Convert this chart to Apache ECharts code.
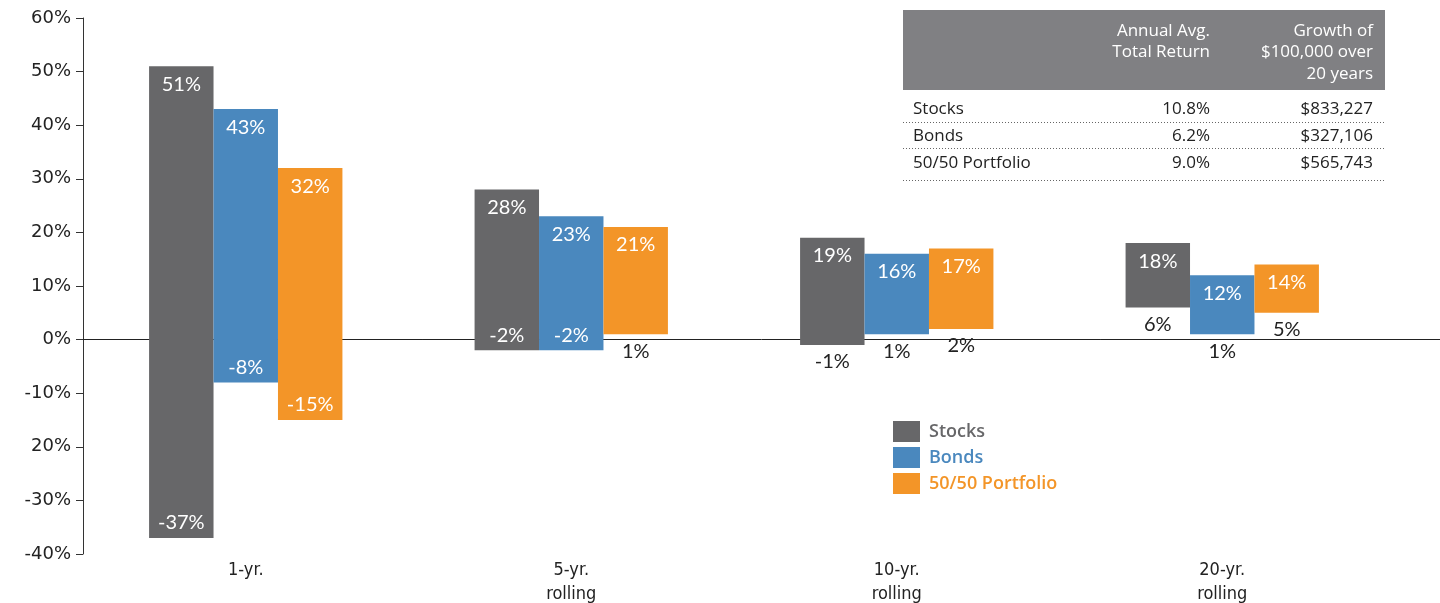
<!DOCTYPE html>
<html>
<head>
<meta charset="utf-8">
<script src="https://cdn.jsdelivr.net/npm/echarts@6/dist/echarts.min.js"></script>
<style>
html,body{margin:0;padding:0;background:#fff;}
#chart{width:1440px;height:603px;}
</style>
</head>
<body>
<div id="chart"></div>
<script>
// ---- data ----
const categories = ['1-yr.', '5-yr.\nrolling', '10-yr.\nrolling', '20-yr.\nrolling'];
const seriesNames = ['Stocks', 'Bonds', '50/50 Portfolio'];
const stocksMin = [-37, -2, -1, 6];
const stocksMax = [51, 28, 19, 18];
const bondsMin = [-8, -2, 1, 1];
const bondsMax = [43, 23, 16, 12];
const portfolioMin = [-15, 1, 2, 5];
const portfolioMax = [32, 21, 17, 14];
const yTickLabels = ['-40%', '-30%', '20%', '-10%', '0%', '10%', '20%', '30%', '40%', '50%', '60%'];
const tableHeader = ['Annual Avg.\nTotal Return', 'Growth of\n$100,000 over\n20 years'];
const tableRowNames = ['Stocks', 'Bonds', '50/50 Portfolio'];
const tableReturns = ['10.8%', '6.2%', '9.0%'];
const tableGrowth = ['$833,227', '$327,106', '$565,743'];

const colors = ['#676769', '#4a88be', '#f39528'];
const BAR_FRAC = 0.198;
const labelFont = 'Lato, "Open Sans", sans-serif';

function makeData(mins, maxs) {
  return mins.map((m, i) => [i, m, maxs[i]]);
}
const seriesData = [
  makeData(stocksMin, stocksMax),
  makeData(bondsMin, bondsMax),
  makeData(portfolioMin, portfolioMax)
];

function renderItem(params, api) {
  const s = params.seriesIndex;
  const ci = api.value(0);
  const lo = api.value(1), hi = api.value(2);
  const center = api.coord([ci, 0])[0];
  const band = api.size([1, 0])[0];
  const w = band * BAR_FRAC;
  const x0 = center + (s - 1) * w - w / 2;
  const yTop = api.coord([ci, hi])[1];
  const yBot = api.coord([ci, lo])[1];
  const cx = x0 + w / 2;
  const children = [
    { type: 'rect', shape: { x: x0, y: yTop, width: w, height: yBot - yTop },
      style: { fill: api.visual('color') } },
    { type: 'text', x: cx, y: yTop + 18,
      style: { text: hi + '%', fill: '#fff', font: '20px ' + labelFont, align: 'center', verticalAlign: 'middle' } }
  ];
  if (lo <= -2) {
    children.push({ type: 'text', x: cx, y: yBot - 15,
      style: { text: lo + '%', fill: '#fff', font: '20px ' + labelFont, align: 'center', verticalAlign: 'middle' } });
  } else {
    children.push({ type: 'text', x: cx, y: yBot + 17,
      style: { text: lo + '%', fill: '#222', font: '20px ' + labelFont, align: 'center', verticalAlign: 'middle' } });
  }
  return { type: 'group', children };
}

// table graphics
const tX0 = 903, tX1 = 1385, col1R = 1210, col2R = 1373, txtL = 913;
const tFont = '17px "Open Sans", sans-serif';
const graphics = [
  { type: 'rect', shape: { x: tX0, y: 10, width: tX1 - tX0, height: 80 }, style: { fill: '#808083' } },
  { type: 'text', x: col1R, y: 20, style: { text: tableHeader[0], fill: '#fff', font: tFont, align: 'right', verticalAlign: 'top', lineHeight: 21.5 } },
  { type: 'text', x: col2R, y: 20, style: { text: tableHeader[1], fill: '#fff', font: tFont, align: 'right', verticalAlign: 'top', lineHeight: 21.5 } }
];
const rowY = [109, 136, 163];
const lineY = [122.5, 148.5, 180.5];
tableRowNames.forEach((n, i) => {
  graphics.push({ type: 'text', x: txtL, y: rowY[i], style: { text: n, fill: '#222', font: tFont, align: 'left', verticalAlign: 'middle' } });
  graphics.push({ type: 'text', x: col1R, y: rowY[i], style: { text: tableReturns[i], fill: '#222', font: tFont, align: 'right', verticalAlign: 'middle' } });
  graphics.push({ type: 'text', x: col2R, y: rowY[i], style: { text: tableGrowth[i], fill: '#222', font: tFont, align: 'right', verticalAlign: 'middle' } });
  graphics.push({ type: 'line', shape: { x1: tX0, y1: lineY[i], x2: tX1, y2: lineY[i] }, style: { stroke: '#666', lineWidth: 1, lineDash: [1, 2] } });
});

const chart = echarts.init(document.getElementById('chart'));
chart.setOption({
  animation: false,
  backgroundColor: '#fff',
  color: colors,
  grid: [
    { left: 83, right: 55, top: 18, bottom: 49, outerBoundsMode: 'none', containLabel: false },
    { left: 83, right: 0, top: 18, bottom: 49, outerBoundsMode: 'none', containLabel: false }
  ],
  legend: {
    orient: 'vertical', left: 888, top: 416, icon: 'rect',
    itemWidth: 27, itemHeight: 21, itemGap: 5,
    textStyle: { fontSize: 18, fontWeight: 600, fontFamily: '"Open Sans", sans-serif', padding: [0, 0, 0, 4] },
    data: seriesNames.map((n, i) => ({ name: n, textStyle: { color: colors[i] } }))
  },
  xAxis: [
    { type: 'category', gridIndex: 0, data: categories,
      axisLine: { show: false, onZero: false }, axisTick: { show: false },
      axisLabel: { margin: 4, fontSize: 18, lineHeight: 24, color: '#222', fontFamily: '"Liberation Sans Narrow", "DejaVu Sans Condensed", sans-serif' } },
    { type: 'value', gridIndex: 1, min: 0, max: 1, show: true,
      axisLine: { show: true, onZero: true, lineStyle: { color: '#222', width: 1 } },
      axisTick: { show: false }, axisLabel: { show: false }, splitLine: { show: false } }
  ],
  yAxis: [
    { type: 'value', gridIndex: 0, min: -40, max: 60, interval: 10,
      axisLine: { show: true, lineStyle: { color: '#333', width: 1 } },
      axisTick: { show: true, length: 7, lineStyle: { color: '#333' } },
      splitLine: { show: false },
      axisLabel: { margin: 12, fontSize: 18, color: '#222', fontFamily: '"DejaVu Sans", sans-serif',
        formatter: v => yTickLabels[Math.round((v + 40) / 10)] } },
    { type: 'value', gridIndex: 1, min: -40, max: 60, show: false }
  ],
  series: seriesNames.map((n, i) => ({
    name: n, type: 'custom', xAxisIndex: 0, yAxisIndex: 0,
    itemStyle: { color: colors[i] },
    encode: { x: 0, y: [1, 2] },
    renderItem: renderItem,
    data: seriesData[i]
  })),
  graphic: graphics
});
</script>
</body>
</html>
